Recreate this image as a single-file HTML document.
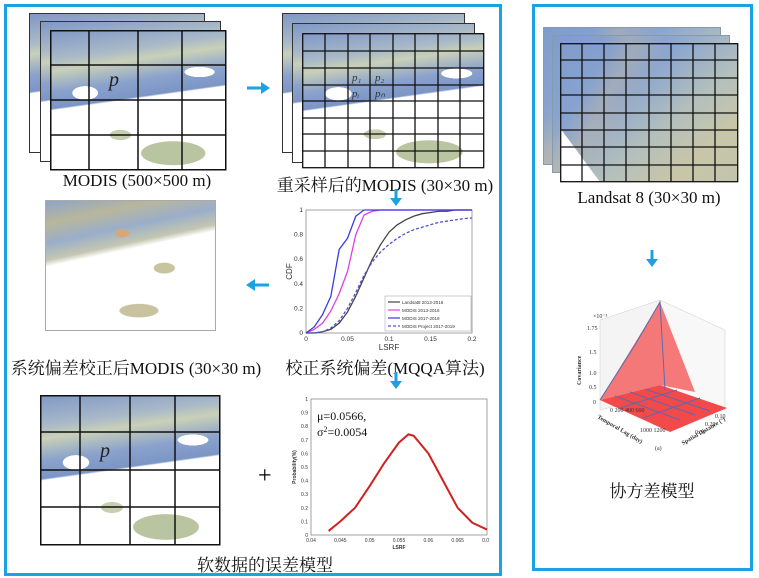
<!DOCTYPE html>
<html><head><meta charset="utf-8">
<style>
html,body{margin:0;padding:0;background:#fff;}
body{width:759px;height:578px;position:relative;overflow:hidden;font-family:"Liberation Serif","Noto Serif CJK SC","Noto Sans CJK SC",serif;}
.abs{position:absolute;}
.box{position:absolute;border:3px solid #1aa3e0;box-sizing:border-box;}
.frame{position:absolute;border:1.5px solid #333;background:#fff;box-sizing:border-box;}
.sat1{background:
 radial-gradient(ellipse 30% 14% at 70% 88%,#b9c4a0 60%,transparent 62%),
 radial-gradient(ellipse 10% 6% at 40% 75%,#c8ceb0 60%,transparent 62%),
 radial-gradient(ellipse 12% 8% at 20% 45%,#fff 60%,transparent 62%),
 radial-gradient(ellipse 14% 6% at 85% 30%,#fff 60%,transparent 62%),
 linear-gradient(172deg,#7f98c6 0%,#a9b9c8 18%,#c9d0b8 25%,#8aa2cc 38%,#7b95c6 48%,#fff 49%,#fff 100%);}
.sat2{background:
 radial-gradient(ellipse 8% 6% at 45% 25%,#d6a878 50%,transparent 55%),
 radial-gradient(ellipse 12% 8% at 70% 52%,#c9c4a0 50%,transparent 55%),
 radial-gradient(ellipse 22% 10% at 55% 85%,#c9c2a0 50%,transparent 55%),
 linear-gradient(168deg,#8ea4c8 0%,#b8b79c 14%,#9aaecb 26%,#c4c6b0 36%,#fff 40%,#fff 100%);}
.land{background:
 linear-gradient(120deg,transparent 0 20%,rgba(220,190,140,.3) 30%,transparent 45%),
 linear-gradient(140deg,#7f9ccc 0%,#8aa5d0 35%,#b4c0bc 60%,#c9c6a8 80%,#c0c4ae 100%);}
.lbl{position:absolute;font-size:17px;color:#111;white-space:nowrap;transform:translateX(-50%);}
</style></head><body>
<div class="box" style="left:4px;top:4px;width:498px;height:572px;"></div>
<div class="box" style="left:532px;top:4px;width:221px;height:567px;"></div>

<div class="frame sat1" style="left:29px;top:13px;width:176px;height:140px;"></div>
<div class="frame sat1" style="left:40px;top:21px;width:181px;height:141px;"></div>
<svg class="abs" style="left:50px;top:30px" width="178" height="142">
 <rect x="0" y="0" width="176" height="140" fill="#fff"/>
 <foreignObject x="0" y="0" width="176" height="140"><div class="sat1" style="width:176px;height:140px"></div></foreignObject>
 <g stroke="#111" stroke-width="1.5" fill="none">
  <rect x="0.75" y="0.75" width="175" height="139"/>
  <line x1="39" y1="0" x2="39" y2="140"/><line x1="88" y1="0" x2="88" y2="140"/><line x1="132" y1="0" x2="132" y2="140"/>
  <line x1="0" y1="35" x2="176" y2="35"/><line x1="0" y1="70" x2="176" y2="70"/><line x1="0" y1="105" x2="176" y2="105"/>
 </g>
 <text x="59" y="56" font-family="Liberation Serif" font-style="italic" font-size="20" fill="#222">p</text>
</svg>
<div class="lbl" style="left:137px;top:171px;">MODIS (500×500 m)</div>

<svg class="abs" style="left:247px;top:81px" width="24" height="14"><line x1="0" y1="7" x2="15" y2="7" stroke="#1aa3e0" stroke-width="3"/><polygon points="14,1 23,7 14,13" fill="#1aa3e0"/></svg>

<div class="frame sat1" style="left:282px;top:13px;width:183px;height:140px;"></div>
<div class="frame sat1" style="left:292px;top:23px;width:183px;height:140px;"></div>
<svg class="abs" style="left:302px;top:33px" width="183" height="137">
 <foreignObject x="0" y="0" width="182" height="135"><div class="sat1" style="width:182px;height:135px"></div></foreignObject>
 <g stroke="#111" stroke-width="1.3" fill="none">
  <rect x="0.7" y="0.7" width="181" height="134"/>
  <line x1="23" y1="0" x2="23" y2="135"/><line x1="46" y1="0" x2="46" y2="135"/><line x1="68" y1="0" x2="68" y2="135"/><line x1="91" y1="0" x2="91" y2="135"/><line x1="113" y1="0" x2="113" y2="135"/><line x1="136" y1="0" x2="136" y2="135"/><line x1="158" y1="0" x2="158" y2="135"/>
  <line x1="0" y1="18" x2="182" y2="18"/><line x1="0" y1="35" x2="182" y2="35"/><line x1="0" y1="52" x2="182" y2="52"/><line x1="0" y1="68" x2="182" y2="68"/><line x1="0" y1="85" x2="182" y2="85"/><line x1="0" y1="101" x2="182" y2="101"/><line x1="0" y1="118" x2="182" y2="118"/>
 </g>
 <g font-family="Liberation Serif" font-style="italic" font-size="11" fill="#333">
  <text x="50" y="48">p₁</text><text x="73" y="48">p₂</text><text x="50" y="64">pᵢ</text><text x="73" y="64">pₙ</text>
 </g>
</svg>
<div class="lbl" style="left:385px;top:171px;">重采样后的MODIS (30×30 m)</div>

<svg class="abs" style="left:389px;top:189px" width="14" height="18"><line x1="7" y1="0" x2="7" y2="10" stroke="#1aa3e0" stroke-width="3"/><polygon points="1,9 13,9 7,17" fill="#1aa3e0"/></svg>

<div class="frame sat2" style="left:45px;top:200px;width:171px;height:131px;border-color:#aaa;"></div>
<div class="lbl" style="left:136px;top:354px;">系统偏差校正后MODIS (30×30 m)</div>
<svg class="abs" style="left:246px;top:278px" width="24" height="14"><polygon points="9,1 0,7 9,13" fill="#1aa3e0"/><line x1="8" y1="7" x2="23" y2="7" stroke="#1aa3e0" stroke-width="3"/></svg>

<svg class="abs" id="cdf" style="left:275px;top:200px" width="210" height="160" font-family="Liberation Sans" font-size="6.5" fill="#333"></svg>
<div class="lbl" style="left:385px;top:354px;">校正系统偏差(MQQA算法)</div>
<svg class="abs" style="left:389px;top:372px" width="14" height="18"><line x1="7" y1="0" x2="7" y2="10" stroke="#1aa3e0" stroke-width="3"/><polygon points="1,9 13,9 7,17" fill="#1aa3e0"/></svg>

<svg class="abs" style="left:40px;top:395px" width="182" height="152">
 <foreignObject x="0" y="0" width="180" height="150"><div class="sat1" style="width:180px;height:150px"></div></foreignObject>
 <g stroke="#111" stroke-width="1.5" fill="none">
  <rect x="0.75" y="0.75" width="179" height="149"/>
  <line x1="40" y1="0" x2="40" y2="150"/><line x1="90" y1="0" x2="90" y2="150"/><line x1="135" y1="0" x2="135" y2="150"/>
  <line x1="0" y1="37" x2="180" y2="37"/><line x1="0" y1="75" x2="180" y2="75"/><line x1="0" y1="112" x2="180" y2="112"/>
 </g>
 <text x="60" y="62" font-family="Liberation Serif" font-style="italic" font-size="20" fill="#222">p</text>
</svg>
<div class="abs" style="left:258px;top:463px;font-size:24px;">+</div>

<svg class="abs" id="prob" style="left:280px;top:390px" width="210" height="160" font-family="Liberation Sans" font-size="6" fill="#333"></svg>
<div class="lbl" style="left:265px;top:551px;">软数据的误差模型</div>

<div class="frame land" style="left:543px;top:27px;width:178px;height:138px;border-color:#89a;"></div>
<div class="frame land" style="left:552px;top:35px;width:178px;height:138px;border-color:#89a;"></div>
<svg class="abs" style="left:560px;top:43px" width="180" height="141">
 <foreignObject x="0" y="0" width="178" height="139"><div class="land" style="width:178px;height:139px"></div></foreignObject>
 <polygon points="0,85 40,139 0,139" fill="#fff"/>
 <g stroke="#111" stroke-width="1.3" fill="none">
  <rect x="0.7" y="0.7" width="177" height="138"/>
  <line x1="22" y1="0" x2="22" y2="139"/><line x1="44" y1="0" x2="44" y2="139"/><line x1="66" y1="0" x2="66" y2="139"/><line x1="89" y1="0" x2="89" y2="139"/><line x1="111" y1="0" x2="111" y2="139"/><line x1="133" y1="0" x2="133" y2="139"/><line x1="155" y1="0" x2="155" y2="139"/>
  <line x1="0" y1="17" x2="178" y2="17"/><line x1="0" y1="35" x2="178" y2="35"/><line x1="0" y1="52" x2="178" y2="52"/><line x1="0" y1="70" x2="178" y2="70"/><line x1="0" y1="87" x2="178" y2="87"/><line x1="0" y1="104" x2="178" y2="104"/><line x1="0" y1="122" x2="178" y2="122"/>
 </g>
</svg>
<div class="lbl" style="left:649px;top:188px;">Landsat 8 (30×30 m)</div>
<svg class="abs" style="left:645px;top:250px" width="14" height="18"><line x1="7" y1="0" x2="7" y2="10" stroke="#1aa3e0" stroke-width="3"/><polygon points="1,9 13,9 7,17" fill="#1aa3e0"/></svg>

<svg class="abs" style="left:555px;top:290px" width="200" height="165" font-family="Liberation Serif" font-size="6" fill="#333">
 <g stroke="#ccc" stroke-width="0.5">
  <polygon points="45,30 105,10 105,105 45,120" fill="#f4f4f4"/>
  <polygon points="105,10 170,40 170,120 105,105" fill="#f8f8f8"/>
 </g>
 <polygon points="45,110 105,95 172,118 115,142" fill="#f24a4a"/>
 <polygon points="45,110 105,12 140,102 105,95" fill="#f56a6a" opacity="0.9"/>
 <g stroke="#5a6ab0" stroke-width="1" fill="none">
  <polyline points="45,110 80,55 105,12 110,100"/>
  <line x1="60" y1="106" x2="125" y2="130"/><line x1="75" y1="102" x2="140" y2="125"/><line x1="90" y1="99" x2="155" y2="121"/>
  <line x1="65" y1="118" x2="122" y2="100"/><line x1="88" y1="128" x2="145" y2="108"/>
 </g>
 <text x="38" y="28">×10⁻³</text>
 <text x="32" y="40">1.75</text><text x="34" y="64">1.5</text><text x="34" y="85">1.0</text><text x="34" y="99">0.5</text><text x="38" y="114">0</text>
 <text transform="translate(26,95) rotate(-90)" font-weight="bold">Covariance</text>
 <text transform="translate(42,128) rotate(30)" font-weight="bold">Temporal Lag (day)</text>
 <text transform="translate(128,155) rotate(-30)" font-weight="bold">Spatial Distance (°)</text>
 <text x="55" y="122">0 200 400 600</text><text x="85" y="142">1000 1200</text>
 <text x="160" y="128">0.10</text><text x="150" y="136">0.20</text><text x="140" y="144">0.30</text>
 <text x="100" y="160">(a)</text>
</svg>
<div class="lbl" style="left:652px;top:477px;">协方差模型</div>

<script>
const cdfX=[0,0.01,0.02,0.03,0.04,0.05,0.06,0.07,0.08,0.09,0.1,0.11,0.12,0.13,0.14,0.15,0.16,0.17,0.18,0.19,0.2];
const landsatY=[0,0,0.01,0.03,0.08,0.17,0.3,0.45,0.6,0.72,0.82,0.88,0.92,0.95,0.97,0.98,0.99,0.99,1,1,1];
const modis1316Y=[0,0.03,0.08,0.18,0.32,0.5,0.8,0.96,0.99,1,1,1,1,1,1,1,1,1,1,1,1];
const modis1719Y=[0,0.05,0.15,0.3,0.68,0.77,0.95,1,1,1,1,1,1,1,1,1,1,1,1,1,1];
const projectY=[0,0,0.01,0.04,0.1,0.2,0.33,0.47,0.58,0.66,0.72,0.77,0.81,0.84,0.86,0.88,0.9,0.91,0.92,0.93,0.935];
const cdfXTicks=[0,0.05,0.1,0.15,0.2];
const cdfYTicks=[0,0.2,0.4,0.6,0.8,1];
const cdfLegend=["Landsat8 2013-2016","MODIS 2013-2016","MODIS 2017-2019","MODIS Project 2017-2019"];

const probX=[0.043,0.045,0.0475,0.05,0.0525,0.055,0.0566,0.0575,0.06,0.0625,0.065,0.0675,0.07];
const probY=[0.03,0.1,0.2,0.36,0.53,0.68,0.74,0.73,0.6,0.4,0.2,0.09,0.04];
const probXTicks=[0.04,0.045,0.05,0.055,0.06,0.065,0.07];
const probYTicks=[0,0.1,0.2,0.3,0.4,0.5,0.6,0.7,0.8,0.9,1];

const NS="http://www.w3.org/2000/svg";
function mk(p,t,a){const e=document.createElementNS(NS,t);for(const k in a)e.setAttribute(k,a[k]);p.appendChild(e);return e;}

(function(){
const s=document.getElementById('cdf');
const L=31,R=197,T=10,B=133;
const sx=v=>L+(v-0)/(0.2)*(R-L), sy=v=>B-v*(B-T);
mk(s,'rect',{x:L,y:T,width:R-L,height:B-T,fill:'#fff',stroke:'#666','stroke-width':0.6});
cdfXTicks.forEach(v=>{const t=mk(s,'text',{x:sx(v),y:B+8,'text-anchor':'middle'});t.textContent=v;
});
cdfYTicks.forEach(v=>{const t=mk(s,'text',{x:L-3,y:sy(v)+2,'text-anchor':'end'});t.textContent=v;
});
const xt=mk(s,'text',{x:(L+R)/2,y:B+17,'text-anchor':'middle','font-size':8});xt.textContent='LSRF';

const yt=mk(s,'text',{transform:`translate(${L-14},${(T+B)/2}) rotate(-90)`,'text-anchor':'middle','font-size':8});yt.textContent='CDF';

const series=[[landsatY,'#444',''],[modis1316Y,'#e040e0',''],[modis1719Y,'#3a3adf',''],[projectY,'#5050d0','3,2']];
series.forEach((sr,i)=>{const pts=cdfX.map((x,j)=>sx(x)+','+sy(sr[0][j])).join(' ');
const pl=mk(s,'polyline',{points:pts,fill:'none',stroke:sr[1],'stroke-width':1.3,'stroke-dasharray':sr[2]});
});
mk(s,'rect',{x:110,y:96,width:86,height:35,fill:'#fff',stroke:'#999','stroke-width':0.5});
cdfLegend.forEach((n,i)=>{const y=102+i*8;
mk(s,'line',{x1:113,y1:y,x2:125,y2:y,stroke:series[i][1],'stroke-width':1.2,'stroke-dasharray':series[i][2]});
const t=mk(s,'text',{x:127,y:y+2,'font-size':4.5});t.textContent=n;
});
})();

(function(){
const s=document.getElementById('prob');
const L=31,R=207,T=9,B=145;
const sx=v=>L+(v-0.04)/(0.03)*(R-L), sy=v=>B-v*(B-T);
mk(s,'rect',{x:L,y:T,width:R-L,height:B-T,fill:'#fff',stroke:'#666','stroke-width':0.6});
probXTicks.forEach(v=>{const t=mk(s,'text',{x:sx(v),y:B+7,'text-anchor':'middle','font-size':5});t.textContent=v;
});
probYTicks.forEach(v=>{const t=mk(s,'text',{x:L-3,y:sy(v)+2,'text-anchor':'end','font-size':5});t.textContent=v;
});
const xt=mk(s,'text',{x:(L+R)/2,y:B+14,'text-anchor':'middle','font-size':5,'font-weight':'bold'});xt.textContent='LSRF';

const yt=mk(s,'text',{transform:`translate(${L-15},${(T+B)/2}) rotate(-90)`,'text-anchor':'middle','font-size':5,'font-weight':'bold'});yt.textContent='Probability(%)';

const pts=probX.map((x,j)=>sx(x)+','+sy(probY[j])).join(' ');
const pl=mk(s,'polyline',{points:pts,fill:'none',stroke:'#d02020','stroke-width':2,'stroke-linejoin':'round'});

const a=mk(s,'text',{x:37,y:30,'font-family':'Liberation Serif','font-size':12,fill:'#111'});a.textContent='μ=0.0566,';

const b=mk(s,'text',{x:37,y:46,'font-family':'Liberation Serif','font-size':12,fill:'#111'});b.innerHTML='σ<tspan dy="-4" font-size="8">2</tspan><tspan dy="4">=0.0054</tspan>';

})();
</script>
</body></html>
